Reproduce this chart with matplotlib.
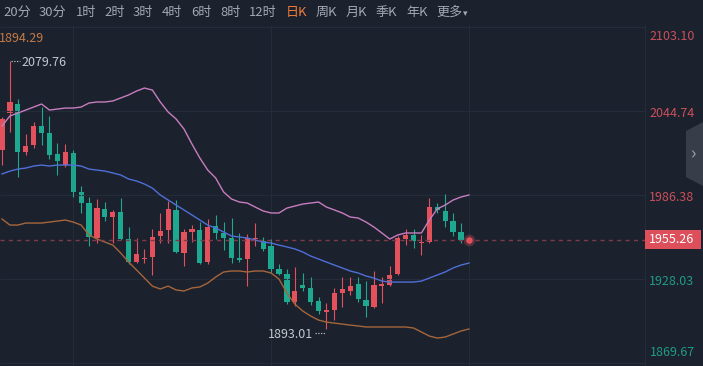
import matplotlib
matplotlib.use('Agg')
import matplotlib.pyplot as plt
import matplotlib.transforms as mtransforms
from matplotlib.patches import Polygon, Rectangle
import numpy as np

plt.rcParams['font.family'] = ['Noto Sans CJK SC', 'DejaVu Sans']

# daily candles, oldest first
opens = [2017.6, 2043.3, 2049.6, 2016.3, 2021.1, 2034.3, 2029.5, 2014.9, 2007.2, 2015.6,
         1988.5, 1980.8, 1956.5, 1976.6, 1971.1, 1974.6, 1955.8, 1939.8, 1941.9, 1943.3,
         1957.9, 1962.1, 1976.0, 1946.1, 1960.7, 1962.1, 1939.8, 1964.8, 1960.0, 1956.5,
         1942.6, 1941.9, 1955.8, 1954.4, 1950.9, 1935.0, 1931.5, 1912.0, 1923.8, 1921.8,
         1912.7, 1905.1, 1906.5, 1918.3, 1919.7, 1924.5, 1913.4, 1908.6, 1923.1, 1923.8,
         1931.5, 1955.8, 1958.6, 1953.0, 1953.7, 1978.0, 1975.3, 1968.3, 1960.7]
closes = [2039.2, 2051.0, 2016.3, 2020.4, 2034.3, 2029.5, 2014.2, 2010.0, 2016.3, 1988.5,
          1980.8, 1957.2, 1977.3, 1971.1, 1974.6, 1955.8, 1939.8, 1945.4, 1942.6, 1957.2,
          1961.4, 1976.6, 1946.8, 1960.7, 1962.8, 1939.1, 1964.1, 1960.0, 1956.5, 1942.6,
          1941.2, 1956.5, 1956.5, 1948.9, 1935.0, 1931.5, 1912.0, 1919.7, 1921.8, 1912.0,
          1905.8, 1906.5, 1918.3, 1921.1, 1923.1, 1914.1, 1909.2, 1923.8, 1924.5, 1930.8,
          1956.5, 1958.6, 1954.4, 1953.7, 1978.0, 1976.0, 1968.3, 1960.7, 1955.26]
highs = [2040.6, 2079.76, 2053.1, 2028.8, 2037.1, 2047.5, 2041.3, 2022.5, 2021.8, 2017.6,
         1992.6, 1985.0, 1983.6, 1981.5, 1976.0, 1984.3, 1964.1, 1956.5, 1948.9, 1962.8,
         1973.9, 1982.2, 1982.9, 1962.8, 1965.5, 1967.6, 1969.7, 1972.5, 1967.6, 1970.4,
         1960.0, 1959.3, 1966.9, 1957.2, 1955.8, 1938.4, 1935.0, 1936.4, 1932.2, 1929.4,
         1915.5, 1911.3, 1921.8, 1929.4, 1929.4, 1929.4, 1926.6, 1933.6, 1929.4, 1937.0,
         1957.9, 1962.8, 1962.8, 1958.6, 1984.3, 1980.8, 1987.1, 1973.9, 1966.9]
lows = [2007.2, 2030.1, 1998.9, 2014.2, 2019.0, 2021.1, 2011.4, 2000.3, 2005.8, 1985.0,
        1973.9, 1950.9, 1953.0, 1968.3, 1953.0, 1955.1, 1938.4, 1939.1, 1939.1, 1930.8,
        1953.0, 1953.0, 1946.1, 1937.0, 1953.7, 1938.4, 1938.4, 1955.8, 1948.2, 1939.1,
        1939.8, 1923.1, 1950.9, 1947.5, 1932.2, 1930.8, 1910.6, 1909.2, 1919.7, 1909.9,
        1903.7, 1893.01, 1899.5, 1908.6, 1916.9, 1912.0, 1901.6, 1907.8, 1911.3, 1923.1,
        1930.8, 1951.6, 1949.6, 1944.7, 1953.0, 1973.9, 1964.1, 1957.9, 1953.0]

# bollinger bands (one more point than candles, up to the live dot)
boll_upper = [2034.3, 2041.3, 2043.3, 2045.4, 2047.5, 2049.6, 2045.4, 2046.1, 2046.8, 2046.8,
              2047.5, 2050.3, 2051.0, 2051.0, 2051.7, 2053.8, 2055.9, 2058.6, 2060.7, 2059.3,
              2051.0, 2044.0, 2039.2, 2032.2, 2021.8, 2012.1, 2003.7, 1998.2, 1988.5, 1983.6,
              1981.5, 1980.8, 1978.0, 1975.3, 1973.9, 1973.9, 1977.3, 1978.7, 1980.1, 1980.8,
              1981.5, 1978.0, 1976.0, 1973.9, 1971.1, 1970.4, 1967.6, 1964.1, 1960.0, 1955.8,
              1958.6, 1960.0, 1960.0, 1960.0, 1969.0, 1976.7, 1979.4, 1982.9, 1985.0, 1986.4]
boll_mid = [2001.0, 2003.0, 2004.4, 2005.1, 2006.5, 2007.2, 2006.5, 2007.2, 2007.2, 2007.2,
            2006.5, 2004.4, 2003.7, 2003.0, 2001.7, 2000.3, 1997.5, 1996.1, 1994.0, 1991.2,
            1986.4, 1982.9, 1979.4, 1976.0, 1972.5, 1969.0, 1965.5, 1963.4, 1960.7, 1957.9,
            1957.2, 1956.5, 1955.1, 1953.7, 1953.0, 1951.6, 1950.3, 1948.9, 1946.8, 1944.0,
            1941.9, 1939.8, 1937.7, 1935.7, 1933.6, 1932.2, 1930.1, 1928.7, 1926.6, 1925.9,
            1925.9, 1925.9, 1925.9, 1926.6, 1928.7, 1930.8, 1932.9, 1935.7, 1937.7, 1939.1]
boll_lower = [1969.7, 1965.5, 1965.5, 1966.9, 1966.9, 1966.9, 1967.6, 1968.3, 1969.0, 1967.6,
              1965.5, 1958.6, 1955.8, 1953.7, 1951.6, 1946.1, 1939.8, 1934.3, 1928.7, 1923.1,
              1921.1, 1923.1, 1920.4, 1919.7, 1921.8, 1922.5, 1925.2, 1929.4, 1932.9, 1933.6,
              1933.6, 1932.9, 1933.6, 1933.6, 1932.2, 1928.0, 1918.3, 1910.6, 1905.8, 1902.3,
              1899.5, 1898.1, 1897.4, 1896.7, 1896.0, 1895.4, 1894.7, 1894.7, 1894.7, 1894.7,
              1894.7, 1894.7, 1894.0, 1891.2, 1888.4, 1887.0, 1887.7, 1889.8, 1891.9, 1893.3]

price_ticks = [2103.10, 2044.74, 1986.38, 1928.03, 1869.67]
last_price = 1955.26
lower_value_label = '1894.29'
periods = ['20分', '30分', '1时', '2时', '3时', '4时', '6时', '8时', '12时',
           '日K', '周K', '月K', '季K', '年K', '更多']
active_period = '日K'

# layout / style
BG = '#1b212d'
GRID = '#252c39'
RED = '#e2515c'
GREEN = '#1ea88f'
W, H = 703, 366
period_px = [3, 39, 76, 104, 133, 162, 191, 220, 249, 286, 316, 346, 376, 406, 436]

fig = plt.figure(figsize=(W / 100, H / 100), dpi=100, facecolor=BG)
ax = fig.add_axes([0, 0, 1, (H - 25) / H], facecolor=BG)
ax.set_xlim(-0.253, 88.58)
ax.set_ylim(1867.59, 2104.49)
ax.axis('off')

sep_x = 81.25  # chart / price-scale border
for p in price_ticks:
    ax.hlines(p, -0.253, sep_x, colors=GRID, lw=0.8)
for gx in [9, 34, 59]:
    ax.axvline(gx, color=GRID, lw=0.8)
ax.axvline(sep_x, color=GRID, lw=0.8)

o = np.array(opens)
c = np.array(closes)
x = np.arange(len(o))
cols = np.where(c >= o, RED, GREEN)
ax.vlines(x, lows, highs, colors=cols, lw=0.8)
ax.bar(x, np.maximum(np.abs(c - o), 0.8), bottom=np.minimum(o, c), width=0.66,
       color=cols, lw=0)

lx = np.arange(len(boll_mid))
ax.plot(lx, boll_upper, color='#c77dbf', lw=1.0)
ax.plot(lx, boll_mid, color='#4f6fd8', lw=1.0)
ax.plot(lx, boll_lower, color='#a5663c', lw=1.0)

# last price line and dot
ax.hlines(last_price, -0.253, sep_x, colors='#7d3b47', lw=1.0, linestyles=(0, (3, 3)))
ax.scatter([lx[-1]], [last_price], s=70, color=RED, alpha=0.3, lw=0, zorder=5)
ax.scatter([lx[-1]], [last_price], s=22, color=RED, lw=0, zorder=6)

# max / min markers
imax = int(np.argmax(highs))
imin = int(np.argmin(lows))
ax.plot([imax + 0.15, imax + 1.3], [highs[imax]] * 2, ls=(0, (1, 1.2)), color='#b9bdc6', lw=0.9)
ax.text(imax + 1.5, highs[imax] - 1.2, f'{highs[imax]:.2f}', color='#c3c7cf',
        fontsize=9, va='center', ha='left')
ax.plot([imin - 1.45, imin - 0.15], [lows[imin] - 2.3] * 2, ls=(0, (1, 1.2)), color='#b9bdc6', lw=0.9)
ax.text(imin - 1.7, lows[imin] - 3.2, f'{lows[imin]:.2f}', color='#c3c7cf',
        fontsize=9, va='center', ha='right')

# price scale labels
tr = mtransforms.blended_transform_factory(ax.transAxes, ax.transData)
for i, p in enumerate(price_ticks):
    col = '#c9505b' if p > last_price else '#1f9c86'
    va = 'top' if i == 0 else ('bottom' if i == len(price_ticks) - 1 else 'center')
    yy = p - 2 if i == 0 else (p + 3 if i == len(price_ticks) - 1 else p - 1.5)
    ax.text(0.988, yy, f'{p:.2f}', transform=tr, color=col, fontsize=9, ha='right', va=va)
ax.add_patch(Rectangle((645 / W, last_price - 6.6), 56 / W, 13.2, transform=tr,
                       color='#dd4f5b', lw=0, zorder=7))
ax.text(0.988, last_price, f'{last_price:.2f}', transform=tr, color='white',
        fontsize=9, ha='right', va='center', zorder=8)

# top toolbar
for name, px in zip(periods, period_px):
    col = '#f07b3c' if name == active_period else '#a3a8b2'
    fig.text(px / W, 1 - 12.5 / H, name, color=col, fontsize=9.4, ha='left', va='center')
fig.text(463 / W, 1 - 14 / H, '▾', color='#a3a8b2', fontsize=6.5, ha='left', va='center')

fig.text(-1 / W, 1 - 39 / H, lower_value_label, color='#c47a45', fontsize=9,
         ha='left', va='center')

# collapse tab on the right
tab = Polygon([(686 / W, 1 - 131 / H), (703 / W, 1 - 122 / H), (703 / W, 1 - 186 / H),
               (686 / W, 1 - 177 / H)], closed=True, transform=fig.transFigure,
              facecolor='#373d49', edgecolor='none')
fig.patches.append(tab)
fig.text(694 / W, 1 - 154 / H, '›', color='#a0a6b0', fontsize=13, ha='center', va='center')

fig.savefig('out.png', dpi=100, facecolor=BG)
